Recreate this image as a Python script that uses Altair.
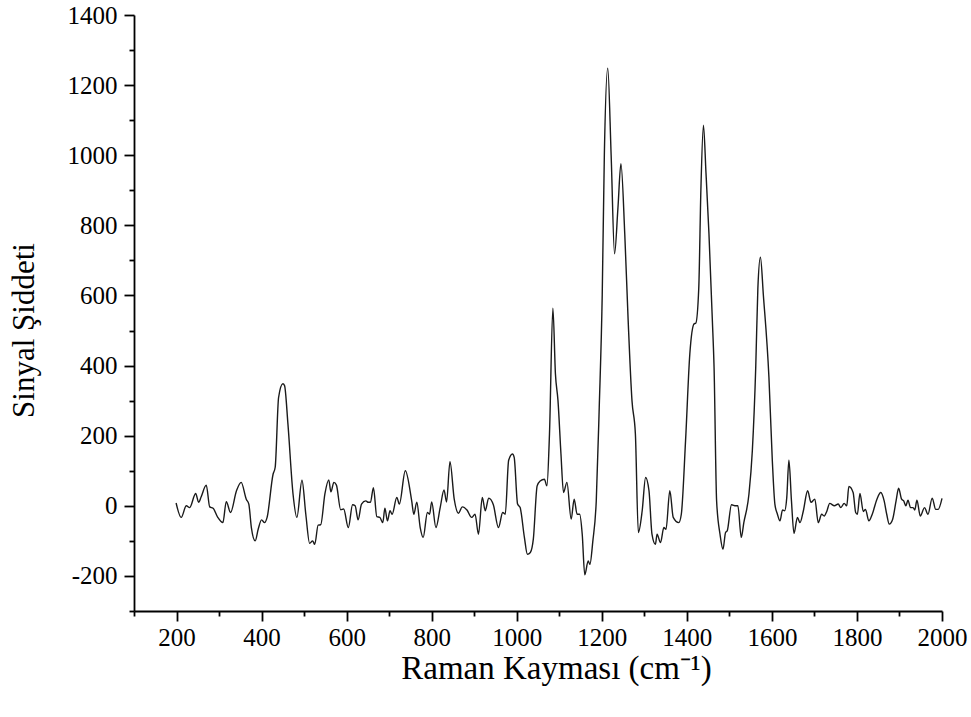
import altair as alt
import pandas as pd

raman_shift = [
    199, 211, 223, 231, 245, 252, 258, 270, 278, 286, 297, 309, 317, 327, 341, 352, 364, 370, 376, 385,
    392, 400, 407, 413, 427, 432, 440, 450, 454, 462, 474, 483, 495, 504, 513, 520, 525, 533, 539, 549,
    558, 563, 570, 576, 586, 593, 604, 614, 620, 627, 635, 645, 651, 656, 663, 671, 678, 685, 690, 696,
    702, 707, 718, 724, 738, 753, 758, 765, 773, 780, 790, 795, 800, 810, 820, 829, 835, 843, 853, 863,
    872, 883, 894, 902, 910, 919, 926, 934, 945, 957, 967, 973, 981, 990, 994, 1002, 1008, 1018, 1025, 1032,
    1039, 1048, 1055, 1065, 1071, 1077, 1085, 1091, 1097, 1104, 1110, 1118, 1128, 1135, 1142, 1148, 1154, 1160, 1168, 1172,
    1179, 1187, 1194, 1201, 1206, 1214, 1222, 1230, 1238, 1245, 1254, 1262, 1271, 1279, 1286, 1295, 1303, 1311, 1318, 1326,
    1330, 1338, 1346, 1351, 1360, 1368, 1381, 1387, 1397, 1407, 1417, 1421, 1428, 1433, 1439, 1445, 1452, 1460, 1464, 1470,
    1478, 1485, 1491, 1495, 1505, 1515, 1520, 1528, 1534, 1546, 1554, 1562, 1567, 1573, 1580, 1593, 1601, 1607, 1613, 1619,
    1625, 1630, 1635, 1640, 1646, 1652, 1660, 1666, 1674, 1684, 1692, 1701, 1709, 1717, 1723, 1729, 1736, 1747, 1756, 1762,
    1770, 1776, 1781, 1791, 1797, 1801, 1807, 1815, 1820, 1828, 1836, 1847, 1856, 1864, 1870, 1876, 1884, 1892, 1898, 1905,
    1910, 1915, 1920, 1926, 1932, 1936, 1941, 1949, 1959, 1967, 1977, 1985, 1991, 2000,
]
intensity = [
    8, -33, 0, -5, 35, 10, 26, 59, -3, -7, -33, -48, 12, -19, 43, 67, 19, 5, -62, -100,
    -67, -40, -48, -33, 90, 110, 309, 348, 343, 233, 33, -33, 73, -24, -107, -100, -110, -55, -54, 35,
    74, 40, 67, 59, -11, -9, -62, 3, 0, -40, 5, 14, 10, 10, 52, -31, -33, -48, -7, -43,
    -14, -24, 24, 5, 100, 14, -24, 10, -62, -90, -19, -24, 11, -62, -5, 45, 11, 126, 19, -21,
    -3, -12, -33, -24, -81, 24, -14, 22, 3, -62, -19, -24, 130, 148, 138, 5, -5, -90, -138, -133,
    -95, 57, 71, 76, 57, 205, 564, 376, 300, 148, 38, 67, -38, 19, -24, -24, -81, -197, -157, -167,
    -100, 14, 281, 600, 1000, 1248, 1000, 719, 850, 976, 776, 529, 300, 205, -76, -14, 81, 43, -81, -110,
    -81, -105, -62, -67, 43, -33, -48, -24, 186, 433, 519, 521, 620, 900, 1086, 950, 776, 529, 395, 14,
    -81, -124, -76, -71, 3, 0, 0, -90, -48, 33, 157, 395, 620, 709, 600, 367, 129, 5, -24, -43,
    -12, -14, 24, 130, 14, -79, -33, -48, -14, 43, 10, 19, -48, -24, -29, -16, 7, 0, 5, -5,
    7, 0, 55, 38, -19, -24, 35, -16, -10, -43, -24, 19, 38, 14, -24, -52, -38, 14, 50, 19,
    14, 0, 16, -5, -5, -12, 16, -29, -5, -24, 22, -10, -10, 21,
]

x_ticks = list(range(100, 2001, 100))
y_ticks = list(range(-300, 1401, 100))

df = pd.DataFrame({"x": raman_shift, "y": intensity})

FONT = "Liberation Serif"
LABEL_EXPR = "datum.value % 200 === 0 ? '' + datum.value : ''"
TICK_SIZE = {"condition": {"test": "datum.value % 200 === 0", "value": 10}, "value": 5}

common = dict(
    labelExpr=LABEL_EXPR,
    tickSize=TICK_SIZE,
    grid=False,
    domainColor="black",
    domainWidth=1.8,
    tickColor="black",
    tickWidth=1.8,
    labelFont=FONT,
    labelFontSize=25,
    labelColor="black",
    labelFlush=False,
    labelOverlap=False,
    titleFont=FONT,
    titleFontWeight="normal",
    titleColor="black",
    titleBaseline="middle",
    titleAlign="center",
)

x_axis = alt.Axis(
    values=x_ticks,
    labelPadding=4,
    title="Raman Kayması (cm⁻¹)",
    titleFontSize=33,
    titleX=422,
    titleY=57,
    **common,
)

y_axis = alt.Axis(
    values=y_ticks,
    labelPadding=7,
    title="Sinyal Şiddeti",
    titleFontSize=31,
    titleX=-110,
    titleY=315,
    titleAngle=270,
    **common,
)

chart = (
    alt.Chart(df)
    .mark_line(color="#1a1a1a", strokeWidth=1.4, interpolate="monotone")
    .encode(
        x=alt.X("x:Q", scale=alt.Scale(domain=[100, 2000], nice=False, zero=False), axis=x_axis),
        y=alt.Y("y:Q", scale=alt.Scale(domain=[-300, 1400], nice=False, zero=False), axis=y_axis),
    )
    .properties(
        width=808,
        height=596,
        autosize=alt.AutoSizeParams(type="none"),
        padding={"left": 134, "top": 15, "right": 29, "bottom": 106},
        view=alt.ViewBackground(stroke="transparent", strokeWidth=0),
    )
    .configure(background="white")
    .configure_view(strokeWidth=0, stroke="transparent")
)

chart.save("out.html", embed_options={"renderer": "svg", "actions": False})
